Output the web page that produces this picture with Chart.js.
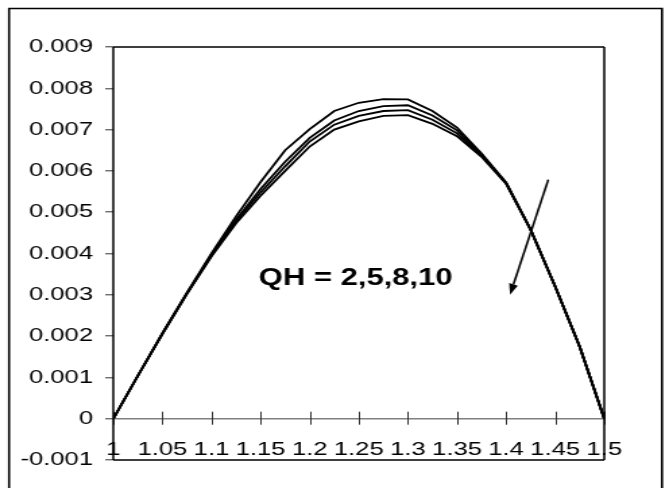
<!DOCTYPE html>
<html>
<head>
<meta charset="utf-8">
<script src="https://cdn.jsdelivr.net/npm/chart.js@4/dist/chart.umd.min.js"></script>
<style>
  html, body { margin: 0; padding: 0; background: #fff; }
</style>
</head>
<body>
<canvas id="c" width="496" height="488" style="display:block;width:669px;height:488px;"></canvas>
<script>
// ---- data ----
const xValues = [1, 1.025, 1.05, 1.075, 1.1, 1.125, 1.15, 1.175, 1.2, 1.225, 1.25, 1.275, 1.3, 1.325, 1.35, 1.375, 1.4, 1.425, 1.45, 1.475, 1.5];
const qh2  = [0, 0.00104, 0.00207, 0.00305, 0.00400, 0.00490, 0.00573, 0.00650, 0.00701, 0.00745, 0.00765, 0.00774, 0.00773, 0.00745, 0.00705, 0.00642, 0.00572, 0.00458, 0.00320, 0.00174, 0];
const qh5  = [0, 0.00104, 0.00206, 0.00304, 0.00397, 0.00482, 0.00556, 0.00622, 0.00680, 0.00722, 0.00745, 0.00757, 0.00759, 0.00734, 0.00698, 0.00640, 0.00571, 0.00458, 0.00320, 0.00174, 0];
const qh8  = [0, 0.00104, 0.00206, 0.00303, 0.00395, 0.00478, 0.00548, 0.00611, 0.00671, 0.00712, 0.00733, 0.00745, 0.00747, 0.00724, 0.00691, 0.00637, 0.00570, 0.00458, 0.00320, 0.00174, 0];
const qh10 = [0, 0.00104, 0.00205, 0.00302, 0.00393, 0.00473, 0.00540, 0.00600, 0.00659, 0.00700, 0.00720, 0.00733, 0.00735, 0.00714, 0.00684, 0.00634, 0.00569, 0.00457, 0.00320, 0.00174, 0];
const seriesNames = ["QH=2", "QH=5", "QH=8", "QH=10"];
const xTickLabels = ["1", "1.05", "1.1", "1.15", "1.2", "1.25", "1.3", "1.35", "1.4", "1.45", "1.5"];
const yTickLabels = ["-0.001", "0", "0.001", "0.002", "0.003", "0.004", "0.005", "0.006", "0.007", "0.008", "0.009"];
const annotationText = "QH = 2,5,8,10";
const annotationPos = [1.148, 0.00324];
const arrowFrom = [1.443, 0.00579];
const arrowTo = [1.404, 0.00300];

// ---- drawing ----
const canvas = document.getElementById('c');
const S = 669 / canvas.width; // horizontal stretch of the original picture
const FONT = '"Liberation Sans", Arial, Helvetica, sans-serif';

function toPoints(arr) { return xValues.map((x, i) => ({ x: x, y: arr[i] })); }

const decor = {
  id: 'decor',
  beforeDraw(chart) {
    const { ctx, width, height } = chart;
    ctx.save();
    ctx.fillStyle = '#fff';
    ctx.fillRect(0, 0, width, height);
    ctx.strokeStyle = '#000';
    ctx.lineWidth = 1.6;
    ctx.beginPath();
    ctx.moveTo(6.7, height + 5);
    ctx.lineTo(6.7, 8.5);
    ctx.lineTo(490.8, 8.5);
    ctx.lineTo(490.8, height + 5);
    ctx.stroke();
    ctx.restore();
  },
  beforeDatasetsDraw(chart) {
    const { ctx, scales: { x, y } } = chart;
    const y0 = y.getPixelForValue(0);
    ctx.save();
    ctx.strokeStyle = '#333';
    ctx.lineWidth = 1;
    x.ticks.forEach(t => {
      const px = Math.round(x.getPixelForValue(t.value)) + 0.5;
      ctx.beginPath();
      ctx.moveTo(px, y0 - 7);
      ctx.lineTo(px, y0 + 6);
      ctx.stroke();
    });
    ctx.restore();
  },
  afterDatasetsDraw(chart) {
    const { ctx, chartArea: a, scales: { x, y } } = chart;
    ctx.save();
    ctx.strokeStyle = '#000';
    // plot frame
    ctx.lineWidth = 1.7;
    ctx.beginPath();
    ctx.moveTo(a.left, a.top); ctx.lineTo(a.right, a.top);
    ctx.moveTo(a.left, a.bottom); ctx.lineTo(a.right, a.bottom);
    ctx.stroke();
    ctx.lineWidth = 1.5;
    ctx.beginPath();
    ctx.moveTo(a.left, a.top); ctx.lineTo(a.left, a.bottom);
    ctx.moveTo(a.right, a.top); ctx.lineTo(a.right, a.bottom);
    ctx.stroke();
    // annotation text
    ctx.fillStyle = '#000';
    ctx.font = 'bold 23px ' + FONT;
    ctx.textAlign = 'left';
    ctx.textBaseline = 'alphabetic';
    ctx.fillText(annotationText, x.getPixelForValue(annotationPos[0]), y.getPixelForValue(annotationPos[1]));
    // arrow, drawn in display space
    ctx.scale(1 / S, 1);
    const x1 = x.getPixelForValue(arrowFrom[0]) * S, y1 = y.getPixelForValue(arrowFrom[1]);
    const x2 = x.getPixelForValue(arrowTo[0]) * S, y2 = y.getPixelForValue(arrowTo[1]);
    const ang = Math.atan2(y2 - y1, x2 - x1);
    const hl = 11, hw = 4.5;
    const bx = x2 - hl * Math.cos(ang), by = y2 - hl * Math.sin(ang);
    ctx.lineWidth = 2;
    ctx.beginPath();
    ctx.moveTo(x1, y1);
    ctx.lineTo(bx, by);
    ctx.stroke();
    ctx.beginPath();
    ctx.moveTo(x2, y2);
    ctx.lineTo(bx + hw * Math.sin(ang), by - hw * Math.cos(ang));
    ctx.lineTo(bx - hw * Math.sin(ang), by + hw * Math.cos(ang));
    ctx.closePath();
    ctx.fill();
    ctx.restore();
  }
};

const series = [qh2, qh5, qh8, qh10];
new Chart(canvas, {
  type: 'line',
  data: {
    datasets: series.map((s, i) => ({
      label: seriesNames[i],
      data: toPoints(s),
      borderColor: '#000',
      backgroundColor: '#000',
      borderWidth: 1.8,
      pointRadius: 0,
      tension: 0,
      fill: false
    }))
  },
  options: {
    responsive: false,
    maintainAspectRatio: false,
    devicePixelRatio: 1,
    animation: false,
    layout: { padding: { left: 0, right: 48, top: 47, bottom: 0 } },
    plugins: { legend: { display: false }, tooltip: { enabled: false } },
    scales: {
      x: {
        type: 'linear',
        position: 'bottom',
        min: 1, max: 1.5,
        afterFit: s => { s.height = 28; },
        grid: { display: false, drawTicks: false },
        border: { display: false },
        ticks: {
          stepSize: 0.05,
          autoSkip: false,
          maxRotation: 0, minRotation: 0,
          mirror: true,
          padding: -1,
          color: '#000',
          font: { family: FONT, size: 19 },
          callback: (v, i) => xTickLabels[i]
        }
      },
      y: {
        type: 'linear',
        position: 'left',
        min: -0.001, max: 0.009,
        afterFit: s => { s.width = 84; },
        grid: {
          drawOnChartArea: true,
          drawTicks: true,
          tickLength: 6,
          tickColor: '#333',
          tickWidth: 1,
          lineWidth: 1.6,
          color: c => (c.tick && Math.abs(c.tick.value) < 1e-9) ? '#808080' : 'rgba(0,0,0,0)'
        },
        border: { display: false },
        ticks: {
          stepSize: 0.001,
          padding: 9,
          color: '#000',
          font: { family: FONT, size: 19 },
          callback: (v, i) => yTickLabels[i]
        }
      }
    }
  },
  plugins: [decor]
});
</script>
</body>
</html>
